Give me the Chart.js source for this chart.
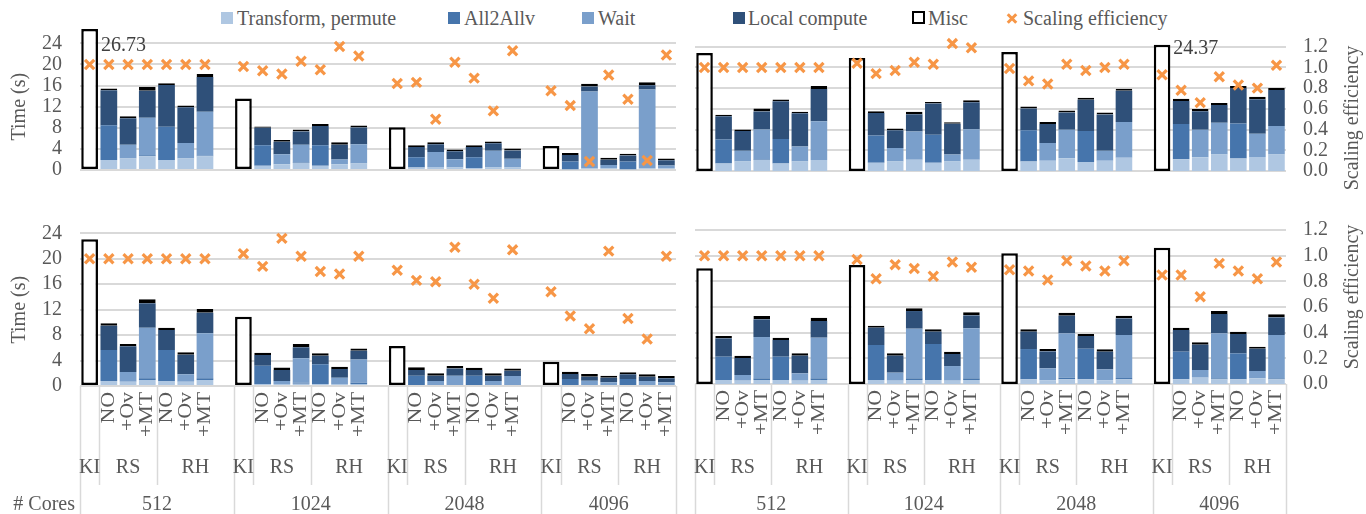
<!DOCTYPE html>
<html>
<head>
<meta charset="utf-8">
<script src="https://cdn.jsdelivr.net/npm/chart.js@4.4.0/dist/chart.umd.min.js"></script>
<style>
  body { margin: 0; width: 1366px; height: 514px; position: relative; overflow: hidden; background: #fff;
         font-family: "Liberation Serif", "Times New Roman", serif; color: #595959; }
  canvas { position: absolute; }
  #topLeft { left: 0; top: 0; }
  #topRight { left: 680px; top: 0; }
  #bottomLeft { left: 0; top: 200px; }
  #bottomRight { left: 680px; top: 200px; }
  .sw { position: absolute; top: 12px; width: 12px; height: 12px; }
  .lt { position: absolute; top: 8px; font-size: 20px; line-height: 20px; white-space: nowrap; }
  .mark { position: absolute; left: 1006px; top: 17px; width: 12px; height: 3px; background: #f79646; }
  .ytitle { position: absolute; left: 1251px; width: 200px; height: 24px; line-height: 24px; font-size: 20px;
            text-align: center; transform: rotate(-90deg); }
</style>
</head>
<body>
<span class="sw" style="left:221px;background:#afc7e2"></span><span class="lt" style="left:237px">Transform, permute</span>
<span class="sw" style="left:448px;background:#4675ac"></span><span class="lt" style="left:464px">All2Allv</span>
<span class="sw" style="left:582px;background:#7a9fcb"></span><span class="lt" style="left:598px">Wait</span>
<span class="sw" style="left:733px;background:#2f5079"></span><span class="lt" style="left:748px">Local compute</span>
<span class="sw" style="left:912px;background:#fff;border:2px solid #000;width:9px;height:9px;top:11px"></span><span class="lt" style="left:928px">Misc</span>
<span class="mark" style="transform:rotate(45deg)"></span><span class="mark" style="transform:rotate(-45deg)"></span>
<span class="lt" style="left:1023px">Scaling efficiency</span>

<canvas id="topLeft" width="690" height="200"></canvas>
<canvas id="topRight" width="686" height="200"></canvas>
<canvas id="bottomLeft" width="690" height="314"></canvas>
<canvas id="bottomRight" width="686" height="314"></canvas>

<div class="ytitle" style="top:106px">Scaling efficiency</div>
<div class="ytitle" style="top:285px">Scaling efficiency</div>

<script>
// categories
const coreCounts = ['512', '1024', '2048', '4096'];
const variantLabels = ['KI', 'NO', '+Ov', '+MT', 'NO', '+Ov', '+MT'];

// each array: per core count -> KI, RS NO, RS +Ov, RS +MT, RH NO, RH +Ov, RH +MT
// top left
const tlTransform = [0, 1.9, 2.2, 2.6, 1.9, 2.2, 2.6, 0, 0.8, 1.1, 1.35, 0.8, 1.1, 1.25, 0, 0.45, 0.55, 0.45, 0.4, 0.45, 0.45, 0, 0.15, 0.27, 0.27, 0.15, 0.27, 0.3];
const tlAll2allv = [0, 6.6, 0, 0.2, 6.3, 0, 0.1, 0, 3.9, 0, 0.15, 3.9, 0, 0, 0, 1.95, 0, 0, 2.0, 0, 0, 0, 1.45, 0, 0, 1.45, 0, 0];
const tlWait = [0, 0, 2.6, 7.1, 0, 2.9, 8.35, 0, 0, 1.9, 3.3, 0, 0.9, 3.65, 0, 0, 2.85, 1.6, 0, 3.2, 1.7, 0, 0, 14.6, 0.7, 0, 14.98, 0.55];
const tlLocal = [0, 6.6, 5.0, 5.1, 7.9, 6.8, 6.55, 0, 3.3, 2.35, 2.5, 3.65, 2.8, 3.15, 0, 1.95, 1.5, 1.5, 1.95, 1.4, 1.55, 0, 1.25, 0.95, 0.98, 1.15, 0.8, 1.0];
const tlMisc = [26.73, 0.35, 0.4, 0.75, 0.35, 0.3, 0.6, 13.55, 0.25, 0.35, 0.35, 0.35, 0.45, 0.4, 8.1, 0.35, 0.35, 0.35, 0.35, 0.35, 0.35, 4.55, 0.35, 0.5, 0.35, 0.35, 0.55, 0.35];
const tlEff = [1, 1, 1, 1, 1, 1, 1, 0.98, 0.94, 0.91, 1.03, 0.95, 1.17, 1.08, 0.82, 0.83, 0.48, 1.02, 0.87, 0.56, 1.13, 0.75, 0.61, 0.08, 0.90, 0.67, 0.09, 1.09];

// top right
const trTransform = [0, 1.47, 1.84, 2.1, 1.47, 1.84, 2.1, 0, 1.57, 1.84, 2.17, 1.57, 1.84, 2.17, 0, 1.84, 2.0, 2.44, 1.74, 2.0, 2.55, 0, 2.28, 2.66, 3.2, 2.39, 2.72, 3.2];
const trAll2allv = [0, 4.6, 0, 0.1, 4.7, 0, 0, 0, 5.3, 0, 0, 5.45, 0, 0, 0, 6.03, 0, 0, 5.97, 0, 0, 0, 6.79, 0, 0, 6.79, 0, 0];
const trWait = [0, 0, 2.06, 5.8, 0, 2.9, 7.5, 0, 0, 2.6, 5.45, 0, 1.36, 5.9, 0, 0, 3.43, 5.54, 0, 1.91, 6.9, 0, 0, 5.32, 6.14, 0, 4.45, 5.48];
const trLocal = [0, 4.5, 3.8, 3.5, 7.3, 6.4, 6.25, 0, 4.35, 3.45, 3.35, 6.0, 5.9, 5.2, 0, 4.18, 3.64, 3.32, 6.03, 7.0, 6.03, 0, 4.45, 3.54, 3.42, 6.84, 6.68, 6.96];
const trMisc = [22.76, 0.3, 0.3, 0.55, 0.35, 0.3, 0.55, 21.8, 0.3, 0.3, 0.45, 0.3, 0.3, 0.4, 23.0, 0.38, 0.38, 0.38, 0.38, 0.38, 0.38, 24.37, 0.44, 0.43, 0.39, 0.38, 0.49, 0.38];
const trEff = [1, 1, 1, 1, 1, 1, 1, 1.04, 0.94, 0.97, 1.05, 1.03, 1.23, 1.19, 0.99, 0.87, 0.84, 1.03, 0.97, 1.0, 1.03, 0.93, 0.78, 0.66, 0.91, 0.83, 0.80, 1.02];

// bottom left
const blTransform = [0, 0.79, 0.68, 0.95, 0.79, 0.68, 0.95, 0, 0.3, 0.3, 0.35, 0.3, 0.3, 0.3, 0, 0.16, 0.16, 0.16, 0.16, 0.16, 0.16, 0, 0.16, 0.16, 0.16, 0.16, 0.16, 0.16];
const blAll2allv = [0, 4.87, 0, 0.25, 4.87, 0, 0.25, 0, 2.9, 0, 0.18, 3.1, 0, 0.2, 0, 1.46, 0, 0, 1.46, 0, 0, 0, 0.94, 0, 0, 0.94, 0, 0];
const blWait = [0, 0, 1.52, 7.97, 0, 1.15, 7.08, 0, 0, 0.5, 3.82, 0, 1.0, 3.67, 0, 0, 0.63, 1.46, 0, 0.63, 1.41, 0, 0, 0.68, 0.42, 0, 0.63, 0.42];
const blLocal = [0, 3.82, 4.03, 3.83, 3.14, 3.09, 3.24, 0, 1.67, 1.72, 1.73, 1.37, 1.36, 1.36, 0, 0.89, 0.83, 1.15, 0.89, 0.83, 0.84, 0, 0.79, 0.63, 0.73, 0.73, 0.68, 0.62];
const blMisc = [23.06, 0.37, 0.37, 0.62, 0.37, 0.37, 0.58, 10.9, 0.37, 0.37, 0.52, 0.36, 0.37, 0.37, 6.29, 0.42, 0.37, 0.37, 0.37, 0.37, 0.36, 3.82, 0.36, 0.42, 0.31, 0.32, 0.36, 0.37];
const blEff = [1, 1, 1, 1, 1, 1, 1, 1.04, 0.94, 1.16, 1.02, 0.90, 0.88, 1.02, 0.91, 0.83, 0.82, 1.09, 0.80, 0.69, 1.07, 0.74, 0.55, 0.45, 1.06, 0.53, 0.37, 1.02];

// bottom right
const brTransform = [0, 0.62, 0.52, 0.62, 0.62, 0.52, 0.62, 0, 0.62, 0.52, 0.62, 0.62, 0.52, 0.62, 0, 0.73, 0.6, 0.73, 0.73, 0.6, 0.73, 0, 0.73, 0.99, 0.73, 0.73, 0.88, 0.73];
const brAll2allv = [0, 3.64, 0, 0.26, 3.64, 0, 0.26, 0, 5.46, 0, 0.26, 5.61, 0, 0.26, 0, 4.72, 0, 0.26, 4.77, 0, 0.2, 0, 4.31, 0, 0.15, 4.05, 0, 0.15];
const brWait = [0, 0, 0.88, 6.44, 0, 1.14, 6.34, 0, 0, 1.25, 7.74, 0, 2.28, 7.8, 0, 0, 1.84, 6.91, 0, 1.68, 6.71, 0, 0, 1.19, 7.02, 0, 1.15, 6.76];
const brLocal = [0, 2.86, 2.65, 2.76, 2.6, 2.76, 2.6, 0, 2.7, 2.65, 2.75, 1.93, 1.88, 2.02, 0, 2.71, 2.65, 2.74, 1.98, 2.76, 2.59, 0, 3.38, 3.95, 3.01, 3.01, 3.47, 2.75];
const brMisc = [18.03, 0.36, 0.37, 0.52, 0.36, 0.36, 0.52, 18.55, 0.31, 0.36, 0.42, 0.36, 0.36, 0.47, 20.36, 0.36, 0.36, 0.48, 0.31, 0.36, 0.41, 21.24, 0.36, 0.36, 0.47, 0.37, 0.32, 0.47];
const brEff = [1, 1, 1, 1, 1, 1, 1, 0.97, 0.82, 0.93, 0.90, 0.84, 0.95, 0.91, 0.89, 0.88, 0.81, 0.96, 0.92, 0.88, 0.96, 0.85, 0.85, 0.68, 0.94, 0.88, 0.82, 0.95];

const FONT = '"Liberation Serif", "Times New Roman", serif';
const TEXT = '#595959';
const GRID = '#d9d9d9';

// an empty slot after every core group except the last one
function withGaps(values) {
  const out = [];
  values.forEach((v, i) => {
    out.push(v === 0 ? null : v);
    if (i % 7 === 6 && i < values.length - 1) out.push(null);
  });
  return out;
}

const axisLabels = [];
coreCounts.forEach((c, g) => {
  variantLabels.forEach(l => axisLabels.push(l));
  if (g < coreCounts.length - 1) axisLabels.push('');
});

// value label for KI bars that run past the 24 s gridline
const bigValuePlugin = {
  id: 'bigValue',
  afterDatasetsDraw(chart) {
    const { ctx, chartArea } = chart;
    const meta = chart.getDatasetMeta(4);
    const values = chart.data.datasets[4].data;
    ctx.save();
    ctx.font = '20px ' + FONT;
    ctx.fillStyle = '#404040';
    ctx.textBaseline = 'middle';
    meta.data.forEach((bar, i) => {
      if (values[i] > 24) ctx.fillText(values[i].toFixed(2), bar.x + bar.width / 2 + 3, chartArea.top + 2);
    });
    ctx.restore();
  }
};

// multi level category axis: variants, KI / RS / RH, core counts
const groupAxisPlugin = {
  id: 'groupAxis',
  afterDraw(chart, args, opts) {
    if (!opts.show) return;
    const { ctx, chartArea, scales: { x } } = chart;
    const labels = chart.data.labels;
    const step = x.getPixelForValue(1) - x.getPixelForValue(0);
    const edge = i => x.getPixelForValue(i) - step / 2;
    const axisY = chartArea.bottom;
    ctx.save();
    ctx.strokeStyle = GRID;
    ctx.lineWidth = 1.5;
    const vline = (px, y2) => {
      ctx.beginPath();
      ctx.moveTo(Math.round(px) + 0.5, axisY);
      ctx.lineTo(Math.round(px) + 0.5, y2);
      ctx.stroke();
    };
    ctx.fillStyle = TEXT;
    ctx.textAlign = 'center';
    ctx.textBaseline = 'middle';
    let start = 0;
    coreCounts.forEach((core, g) => {
      const len = g < coreCounts.length - 1 ? 8 : 7;
      vline(edge(start), chart.height);
      vline(edge(start + 1), opts.row2Bottom);
      vline(edge(start + 4), opts.row2Bottom);

      for (let i = start + 1; i < start + 7; i++) {
        ctx.save();
        ctx.translate(x.getPixelForValue(i), axisY + 6);
        ctx.rotate(-Math.PI / 2);
        ctx.scale(opts.stretch, 1);
        ctx.font = '19px ' + FONT;
        ctx.textAlign = 'right';
        ctx.fillText(labels[i], 0, 0);
        ctx.restore();
      }

      ctx.font = '20px ' + FONT;
      ctx.fillText(labels[start], x.getPixelForValue(start), opts.row2Y);
      ctx.fillText('RS', (edge(start + 1) + edge(start + 4)) / 2, opts.row2Y);
      ctx.fillText('RH', (edge(start + 4) + edge(start + len)) / 2, opts.row2Y);
      ctx.fillText(core, (edge(start) + edge(start + len)) / 2, opts.row3Y);
      start += len;
    });
    vline(edge(start), chart.height);
    if (opts.coresTitle) {
      ctx.textAlign = 'right';
      ctx.fillText('# Cores', chartArea.left - 5, opts.row3Y);
    }
    ctx.restore();
  }
};

function makePanel(id, series, cfg) {
  const tickFont = { family: FONT, size: 20 };
  const barDefaults = { stack: 'time', yAxisID: 'y', order: 1, categoryPercentage: 1, barPercentage: 0.87, borderWidth: 0 };
  return new Chart(document.getElementById(id), {
    type: 'bar',
    data: {
      labels: axisLabels,
      datasets: [
        { ...barDefaults, label: 'Transform, permute', data: withGaps(series.transform), backgroundColor: '#afc7e2' },
        { ...barDefaults, label: 'All2Allv', data: withGaps(series.all2allv), backgroundColor: '#4675ac' },
        { ...barDefaults, label: 'Wait', data: withGaps(series.wait), backgroundColor: '#7a9fcb' },
        { ...barDefaults, label: 'Local compute', data: withGaps(series.local), backgroundColor: '#2f5079' },
        { ...barDefaults, label: 'Misc', data: withGaps(series.misc), backgroundColor: '#ffffff',
          borderColor: '#000000', borderWidth: 2.5, borderSkipped: false, clip: false },
        { type: 'line', label: 'Scaling efficiency', data: withGaps(series.eff), yAxisID: 'y1', order: 0,
          showLine: false, clip: false, pointStyle: 'crossRot', pointRadius: 6.5, pointBorderWidth: 3.2,
          pointBorderColor: '#f79646', pointBackgroundColor: '#f79646' }
      ]
    },
    options: {
      responsive: false,
      animation: false,
      events: [],
      layout: { padding: cfg.padding },
      plugins: {
        legend: { display: false },
        tooltip: { enabled: false },
        groupAxis: cfg.axis
      },
      scales: {
        x: {
          stacked: true,
          display: cfg.axis.show,
          grid: { display: false },
          border: { display: false },
          ticks: { display: false },
          afterFit: s => { if (s.options.display) s.height = cfg.xHeight; }
        },
        y: {
          stacked: true,
          min: 0, max: 24,
          display: cfg.side === 'left',
          ticks: { stepSize: 4, autoSkip: false, padding: 18, color: TEXT, font: tickFont },
          grid: { color: GRID, lineWidth: 2, drawTicks: false },
          border: { display: false },
          title: { display: true, text: 'Time (s)', color: TEXT, font: tickFont, padding: { top: 8, bottom: 0 } },
          afterFit: s => { if (s.options.display) s.width = 80; }
        },
        y1: {
          position: 'right',
          min: 0, max: 1.2,
          display: cfg.side === 'right',
          ticks: { stepSize: 0.2, autoSkip: false, padding: 17, color: TEXT, font: tickFont, callback: v => v.toFixed(1) },
          grid: { color: GRID, lineWidth: 2, drawTicks: false },
          border: { display: false },
          afterFit: s => { if (s.options.display) s.width = 80; }
        }
      }
    },
    plugins: [bigValuePlugin, groupAxisPlugin]
  });
}

makePanel('topLeft',
  { transform: tlTransform, all2allv: tlAll2allv, wait: tlWait, local: tlLocal, misc: tlMisc, eff: tlEff },
  { side: 'left', padding: { top: 43.3, bottom: 7.3, left: 0, right: 14 }, axis: { show: false } });

makePanel('topRight',
  { transform: trTransform, all2allv: trAll2allv, wait: trWait, local: trLocal, misc: trMisc, eff: trEff },
  { side: 'right', padding: { top: 46.7, bottom: 6, left: 15, right: 0 }, axis: { show: false } });

makePanel('bottomLeft',
  { transform: blTransform, all2allv: blAll2allv, wait: blWait, local: blLocal, misc: blMisc, eff: blEff },
  { side: 'left', padding: { top: 33.3, bottom: 0, left: 0, right: 14 }, xHeight: 128,
    axis: { show: true, row2Y: 268, row3Y: 305, row2Bottom: 285, stretch: 1.15, coresTitle: true } });

makePanel('bottomRight',
  { transform: brTransform, all2allv: brAll2allv, wait: brWait, local: brLocal, misc: brMisc, eff: brEff },
  { side: 'right', padding: { top: 30, bottom: 0, left: 15, right: 0 }, xHeight: 130,
    axis: { show: true, row2Y: 268, row3Y: 305, row2Bottom: 285, stretch: 1.15, coresTitle: false } });
</script>
</body>
</html>
